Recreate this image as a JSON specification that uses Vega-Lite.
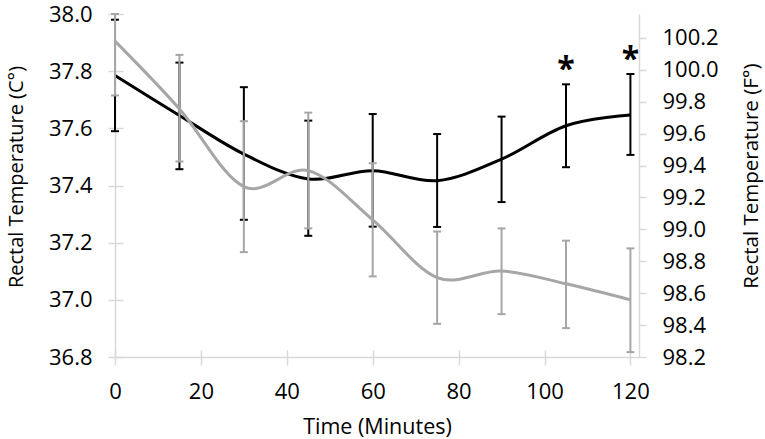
{
  "$schema": "https://vega.github.io/schema/vega-lite/v6.json",
  "width": 524,
  "height": 343,
  "autosize": "none",
  "padding": {"left": 115, "top": 14, "right": 126, "bottom": 82},
  "background": "white",
  "config": {
    "view": {"stroke": null},
    "axis": {
      "grid": false,
      "labelFont": "Open Sans",
      "titleFont": "Open Sans",
      "labelColor": "#000000",
      "titleColor": "#000000",
      "domainColor": "#d9d9d9",
      "tickColor": "#d9d9d9",
      "domainWidth": 1.5,
      "tickWidth": 1.5,
      "labelFontSize": 22,
      "titleFontSize": 21.5,
      "titleFontWeight": "normal",
      "labelOverlap": false,
      "labelFlush": false
    }
  },
  "datasets": {
    "temps": [
      {"t": 0, "series": "A", "mean": 37.785, "lo": 37.59, "hi": 37.98},
      {"t": 15, "series": "A", "mean": 37.645, "lo": 37.457, "hi": 37.83},
      {"t": 30, "series": "A", "mean": 37.51, "lo": 37.28, "hi": 37.744},
      {"t": 45, "series": "A", "mean": 37.423, "lo": 37.224, "hi": 37.627},
      {"t": 60, "series": "A", "mean": 37.452, "lo": 37.256, "hi": 37.65},
      {"t": 75, "series": "A", "mean": 37.417, "lo": 37.255, "hi": 37.58},
      {"t": 90, "series": "A", "mean": 37.492, "lo": 37.342, "hi": 37.641},
      {"t": 105, "series": "A", "mean": 37.609, "lo": 37.464, "hi": 37.754},
      {"t": 120, "series": "A", "mean": 37.647, "lo": 37.507, "hi": 37.79},
      {"t": 0, "series": "B", "mean": 37.905, "lo": 37.715, "hi": 38.0},
      {"t": 15, "series": "B", "mean": 37.668, "lo": 37.484, "hi": 37.857},
      {"t": 30, "series": "B", "mean": 37.396, "lo": 37.167, "hi": 37.625},
      {"t": 45, "series": "B", "mean": 37.452, "lo": 37.25, "hi": 37.655},
      {"t": 60, "series": "B", "mean": 37.28, "lo": 37.082, "hi": 37.478},
      {"t": 75, "series": "B", "mean": 37.078, "lo": 36.916, "hi": 37.239},
      {"t": 90, "series": "B", "mean": 37.101, "lo": 36.95, "hi": 37.25},
      {"t": 105, "series": "B", "mean": 37.056, "lo": 36.901, "hi": 37.207},
      {"t": 120, "series": "B", "mean": 37.0, "lo": 36.817, "hi": 37.18}
    ],
    "stars": [
      {"t": 105, "y": 37.833, "label": "*"},
      {"t": 120, "y": 37.868, "label": "*"}
    ],
    "fscale": [
      {"t": 0, "f": 98.2},
      {"t": 122, "f": 100.35}
    ]
  },
  "data": {"name": "temps"},
  "resolve": {
    "scale": {"y": "independent"},
    "axis": {"x": "independent", "y": "independent"}
  },
  "layer": [
    {
      "transform": [{"filter": "datum.series == 'A'"}],
      "mark": {"type": "rule", "color": "#000000", "strokeWidth": 2},
      "encoding": {
        "x": {"field": "t", "type": "quantitative", "scale": {"domain": [0, 122], "nice": false},
          "axis": {"orient": "bottom", "values": [0, 20, 40, 60, 80, 100, 120], "format": "d",
            "tickSize": 8, "labelBaseline": "alphabetic", "labelPadding": 33,
            "title": "Time (Minutes)", "titleBaseline": "alphabetic", "titleY": 76}},
        "y": {"field": "lo", "type": "quantitative", "scale": {"domain": [36.8, 38], "nice": false, "zero": false},
          "axis": {"orient": "left", "values": [36.8, 37.0, 37.2, 37.4, 37.6, 37.8, 38.0], "format": ".1f",
            "tickSize": 7, "labelPadding": 16,
            "title": "Rectal Temperature (C°)", "titleFontSize": 20, "titleAngle": 270, "titleBaseline": "alphabetic",
            "titleAlign": "center", "titleX": -93, "titleY": 162.5}},
        "y2": {"field": "hi"}
      }
    },
    {
      "transform": [{"filter": "datum.series == 'A'"}],
      "mark": {"type": "tick", "orient": "horizontal", "color": "#000000", "size": 8, "thickness": 2, "opacity": 1},
      "encoding": {
        "x": {"field": "t", "type": "quantitative", "scale": {"domain": [0, 122], "nice": false}, "axis": null},
        "y": {"field": "lo", "type": "quantitative", "scale": {"domain": [36.8, 38], "nice": false, "zero": false}, "axis": null}
      }
    },
    {
      "transform": [{"filter": "datum.series == 'A'"}],
      "mark": {"type": "tick", "orient": "horizontal", "color": "#000000", "size": 8, "thickness": 2, "opacity": 1},
      "encoding": {
        "x": {"field": "t", "type": "quantitative", "scale": {"domain": [0, 122], "nice": false}, "axis": null},
        "y": {"field": "hi", "type": "quantitative", "scale": {"domain": [36.8, 38], "nice": false, "zero": false}, "axis": null}
      }
    },
    {
      "transform": [{"filter": "datum.series == 'A'"}],
      "mark": {"type": "line", "color": "#000000", "strokeWidth": 3, "interpolate": "cardinal", "tension": 0},
      "encoding": {
        "x": {"field": "t", "type": "quantitative", "scale": {"domain": [0, 122], "nice": false}, "axis": null},
        "y": {"field": "mean", "type": "quantitative", "scale": {"domain": [36.8, 38], "nice": false, "zero": false}, "axis": null}
      }
    },
    {
      "transform": [{"filter": "datum.series == 'B'"}],
      "mark": {"type": "rule", "color": "#a6a6a6", "strokeWidth": 2},
      "encoding": {
        "x": {"field": "t", "type": "quantitative", "scale": {"domain": [0, 122], "nice": false}, "axis": null},
        "y": {"field": "lo", "type": "quantitative", "scale": {"domain": [36.8, 38], "nice": false, "zero": false}, "axis": null},
        "y2": {"field": "hi"}
      }
    },
    {
      "transform": [{"filter": "datum.series == 'B'"}],
      "mark": {"type": "tick", "orient": "horizontal", "color": "#a6a6a6", "size": 8, "thickness": 2, "opacity": 1},
      "encoding": {
        "x": {"field": "t", "type": "quantitative", "scale": {"domain": [0, 122], "nice": false}, "axis": null},
        "y": {"field": "lo", "type": "quantitative", "scale": {"domain": [36.8, 38], "nice": false, "zero": false}, "axis": null}
      }
    },
    {
      "transform": [{"filter": "datum.series == 'B'"}],
      "mark": {"type": "tick", "orient": "horizontal", "color": "#a6a6a6", "size": 8, "thickness": 2, "opacity": 1},
      "encoding": {
        "x": {"field": "t", "type": "quantitative", "scale": {"domain": [0, 122], "nice": false}, "axis": null},
        "y": {"field": "hi", "type": "quantitative", "scale": {"domain": [36.8, 38], "nice": false, "zero": false}, "axis": null}
      }
    },
    {
      "transform": [{"filter": "datum.series == 'B'"}],
      "mark": {"type": "line", "color": "#a6a6a6", "strokeWidth": 3, "interpolate": "cardinal", "tension": 0},
      "encoding": {
        "x": {"field": "t", "type": "quantitative", "scale": {"domain": [0, 122], "nice": false}, "axis": null},
        "y": {"field": "mean", "type": "quantitative", "scale": {"domain": [36.8, 38], "nice": false, "zero": false}, "axis": null}
      }
    },
    {
      "data": {"name": "stars"},
      "mark": {"type": "text", "font": "Open Sans", "fontWeight": "bold", "fontSize": 32, "baseline": "alphabetic", "dy": 18, "color": "#000000"},
      "encoding": {
        "x": {"field": "t", "type": "quantitative", "scale": {"domain": [0, 122], "nice": false}, "axis": null},
        "y": {"field": "y", "type": "quantitative", "scale": {"domain": [36.8, 38], "nice": false, "zero": false}, "axis": null},
        "text": {"field": "label"}
      }
    },
    {
      "mark": {"type": "point", "opacity": 0},
      "encoding": {
        "x": {"field": "t", "type": "quantitative", "scale": {"domain": [0, 122], "nice": false},
          "axis": {"orient": "bottom", "offset": -7, "values": [0, 20, 40, 60, 80, 100, 120],
            "domain": false, "labels": false, "tickSize": 7, "title": null}},
        "y": {"field": "mean", "type": "quantitative", "scale": {"domain": [36.8, 38], "nice": false, "zero": false},
          "axis": {"orient": "left", "offset": -8, "values": [36.8, 37.0, 37.2, 37.4, 37.6, 37.8, 38.0],
            "domain": false, "labels": false, "tickSize": 8, "title": null}}
      }
    },
    {
      "data": {"name": "fscale"},
      "mark": {"type": "point", "opacity": 0},
      "encoding": {
        "x": {"field": "t", "type": "quantitative", "scale": {"domain": [0, 122], "nice": false}, "axis": null},
        "y": {"field": "f", "type": "quantitative", "scale": {"domain": [98.2, 100.35], "nice": false, "zero": false},
          "axis": {"orient": "right", "values": [98.2, 98.4, 98.6, 98.8, 99.0, 99.2, 99.4, 99.6, 99.8, 100.0, 100.2], "format": ".1f",
            "tickSize": 7, "labelPadding": 16,
            "title": "Rectal Temperature (F°)", "titleFontSize": 20.5, "titleAngle": 270, "titleBaseline": "alphabetic",
            "titleAlign": "center", "titleX": 118, "titleY": 161.5}}
      }
    }
  ]
}
